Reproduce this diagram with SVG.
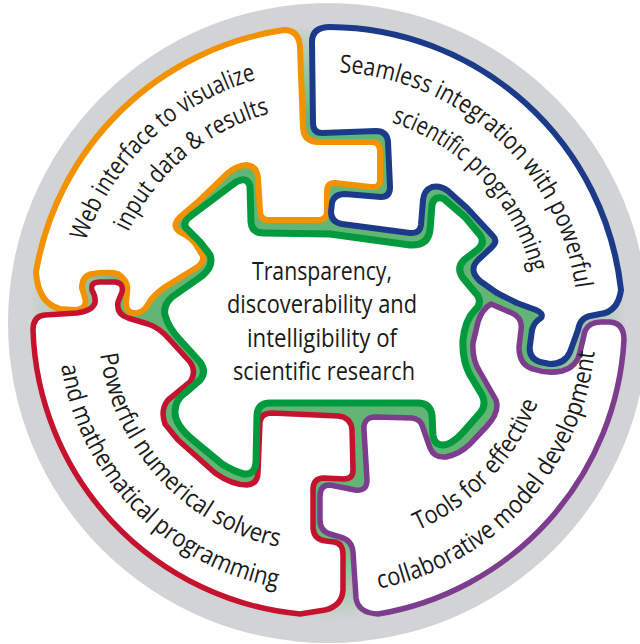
<svg xmlns="http://www.w3.org/2000/svg" width="640" height="644" viewBox="0 0 640 644">
<defs>
<radialGradient id="bg" gradientUnits="userSpaceOnUse" cx="328" cy="323" r="320">
<stop offset="0" stop-color="#62b574"/>
<stop offset="0.64" stop-color="#62b574"/>
<stop offset="0.93" stop-color="#d1d3d4"/>
<stop offset="1" stop-color="#d1d3d4"/>
</radialGradient>
<path id="tO1" d="M 85.8,241.3 A 254 254 0 0 1 256,79.8"/>
<path id="tO2" d="M 128.4,231.9 A 218 218 0 0 1 269.6,113.4"/>
<path id="tB1" d="M 339.2,72.3 A 252 252 0 0 1 575.5,288.9"/>
<path id="tB2" d="M 391.5,122.4 A 212 212 0 0 1 531.7,272.7"/>
<path id="tP1" d="M 417.9,530.5 A 226 226 0 0 0 538,402.4"/>
<path id="tP2" d="M 378.9,588.8 A 270 270 0 0 0 594.6,351.3"/>
<path id="tR1" d="M 100,354.2 A 228 228 0 0 0 279,547.1"/>
<path id="tR2" d="M 61.2,365.5 A 268 268 0 0 0 276.7,587.4"/>
</defs>
<style>
.piece{fill:#ffffff;stroke-linejoin:round;stroke-linecap:round}
.lbl{font-family:"Open Sans","Noto Sans","DejaVu Sans",sans-serif;font-size:25px;fill:#1a1a1a}
</style>
<circle cx="328" cy="323" r="320" fill="url(#bg)"/>

<g id="orange-piece">
<path class="piece" stroke="#f39200" stroke-width="6" d="M 36,272 A 295 295 0 0 1 284,30 Q 299,30 300,47 L 303,128 Q 304,141 317,142 L 373,142 Q 380,143 380,151 L 380,180 Q 380,188 371,187 L 335,183 Q 327,182 327,192 L 327,211 Q 327,220 318,220 L 269,220 Q 260,220 260,211 L 258,178 Q 257,166 246,165 Q 236,166 228,173 L 200,200 L 180,217 Q 170,227 182,233 Q 193,238 198,248 L 203,256 Q 204,263 196,268 L 165,287 Q 152,296 147,306 Q 142,314 133,313 Q 126,312 126,303 L 127,292 Q 129,281 118,274 Q 112,272 100,273 L 92,274 Q 82,276 82,288 L 85,298 Q 88,309 75,310 L 60,309 Q 38,303 36,272 Z"/>
<text class="lbl"><textPath href="#tO1" textLength="244" lengthAdjust="spacingAndGlyphs">Web interface to visualize</textPath></text>
<text class="lbl"><textPath href="#tO2" textLength="190" lengthAdjust="spacingAndGlyphs">input data &amp; results</textPath></text>
</g>

<g id="blue-piece">
<path class="piece" stroke="#1b3a8a" stroke-width="6" d="M 312,42 Q 312,27 330,27 A 295 295 0 0 1 621,290 Q 618,312 600,314 L 590,316 Q 580,318 578,330 L 570,352 Q 565,364 550,364 L 540,362 Q 528,358 530,345 L 532,330 Q 534,322 541,318 Q 544,313 536,310 L 517,303 L 497,293 L 480,281 Q 468,270 478,260 L 492,247 Q 498,241 493,236 L 467,208 L 448,191 Q 440,185 432,187 Q 424,190 423,200 L 421,225 Q 420,234 410,233 L 342,224 Q 331,222 331,212 L 332,203 Q 334,194 345,194 L 381,197 Q 390,197 390,187 L 388,142 Q 387,131 376,131 L 322,133 Q 313,133 313,123 Z"/>
<text class="lbl"><textPath href="#tB1" textLength="347" lengthAdjust="spacingAndGlyphs">Seamless integration with powerful</textPath></text>
<text class="lbl"><textPath href="#tB2" textLength="214" lengthAdjust="spacingAndGlyphs">scientific programming</textPath></text>
</g>

<g id="purple-piece">
<path class="piece" stroke="#7d3c8e" stroke-width="5.5" d="M 491,304 L 512,313 Q 523,318 521,330 L 519,347 Q 519,365 533,369 Q 547,374 562,371 Q 577,367 580,352 L 585,331 Q 589,322 601,322 L 610,322 Q 624,323 624,340 A 295 295 0 0 1 378,614 Q 358,613 356,598 L 353,552 Q 352,540 340,537 L 330,534 Q 320,531 320,520 L 320,496 Q 320,485 330,485 L 355,490 Q 367,492 367,480 L 364,430 Q 363,417 376,417 L 412,418 Q 421,419 423,428 L 430,448 Q 434,458 446,457 Q 460,454 470,444 L 487,426 Q 500,412 496,400 L 480,372 Q 472,360 473,343 L 478,322 Q 482,309 491,304 Z"/>
<text class="lbl"><textPath href="#tP1" textLength="180" lengthAdjust="spacingAndGlyphs">Tools for effective</textPath></text>
<text class="lbl"><textPath href="#tP2" textLength="343" lengthAdjust="spacingAndGlyphs">collaborative model development</textPath></text>
</g>

<g id="red-piece">
<path class="piece" stroke="#c4122f" stroke-width="5.5" d="M 45,315 L 77,313 Q 92,311 95,303 Q 96,297 92,290 Q 90,282 100,282 L 115,282 Q 124,283 122,292 L 118,302 Q 116,314 128,318 L 148,324 Q 160,328 170,340 L 190,362 Q 197,372 190,382 L 168,400 Q 160,410 165,424 L 178,440 L 215,473 Q 232,485 247,485 Q 258,484 258,472 L 260,422 Q 261,413 272,413 L 338,416 Q 351,417 352,430 L 353,470 Q 353,479 344,479 L 324,478 Q 313,478 313,490 L 313,528 Q 314,540 326,541 L 334,542 Q 343,543 343,555 L 343,590 Q 342,606 325,610 L 300,614 A 295 295 0 0 1 33,330 Q 33,316 45,315 Z"/>
<text class="lbl"><textPath href="#tR1" textLength="280" lengthAdjust="spacingAndGlyphs">Powerful numerical solvers</textPath></text>
<text class="lbl"><textPath href="#tR2" textLength="330" lengthAdjust="spacingAndGlyphs">and mathematical programming</textPath></text>
</g>

<g id="center-piece">
<path class="piece" stroke="#009a3e" stroke-width="7" d="M 236,182 Q 247,176 250,186 L 251,222 Q 252,233 263,233 L 330,234 L 410,245 Q 428,246 430,230 L 432,205 Q 434,195 444,199 L 465,217 L 480,235 Q 486,243 477,250 L 464,260 Q 456,268 463,278 L 478,296 Q 482,304 475,310 Q 465,320 463,340 Q 462,360 470,375 L 482,395 Q 487,405 480,413 L 465,430 Q 452,445 443,445 Q 434,445 433,435 L 432,415 Q 430,403 418,403 L 270,403 Q 258,403 257,415 L 256,462 Q 255,475 244,474 Q 233,471 222,464 L 193,440 Q 175,425 175,412 Q 175,400 185,393 L 200,380 Q 207,372 200,362 L 180,340 Q 168,327 165,315 Q 163,305 172,297 L 202,276 Q 214,266 210,255 L 200,242 Q 190,232 186,228 Q 182,222 192,215 L 212,200 Z"/>
<text class="lbl" text-anchor="middle" x="322" y="280" textLength="140" lengthAdjust="spacingAndGlyphs">Transparency,</text>
<text class="lbl" text-anchor="middle" x="322" y="313" textLength="190" lengthAdjust="spacingAndGlyphs">discoverability and</text>
<text class="lbl" text-anchor="middle" x="322" y="347" textLength="150" lengthAdjust="spacingAndGlyphs">intelligibility of</text>
<text class="lbl" text-anchor="middle" x="324" y="380" textLength="182" lengthAdjust="spacingAndGlyphs">scientific research</text>
</g>
</svg>
